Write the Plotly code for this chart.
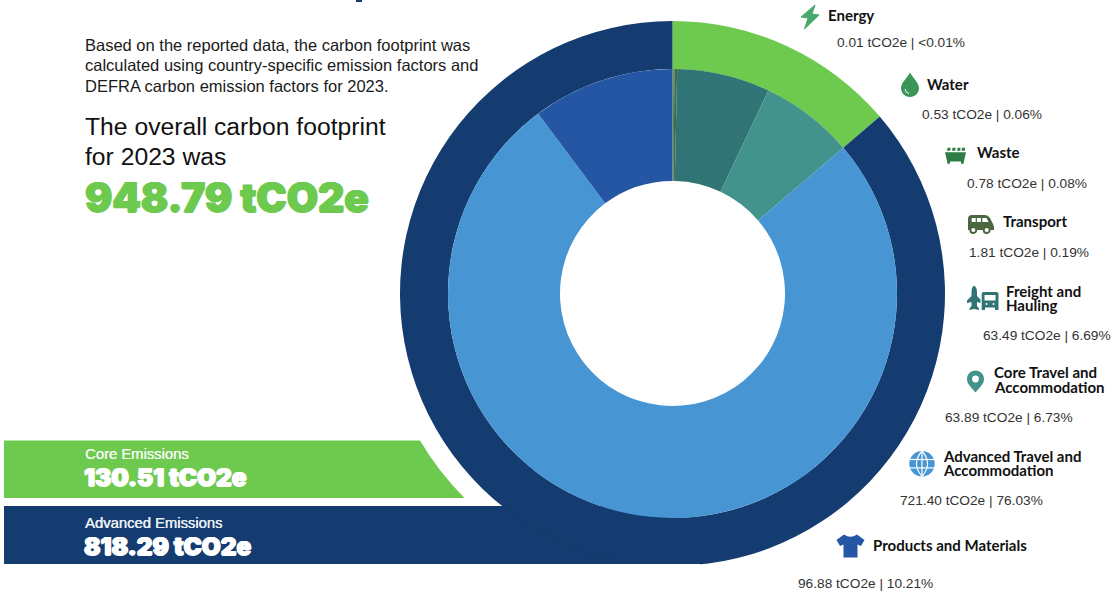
import re
import plotly.graph_objects as go

W, H = 1113, 594

# Emissions by category, in tCO2e
categories = ["Energy", "Water", "Waste", "Transport", "Freight and Hauling",
              "Core Travel and Accommodation", "Advanced Travel and Accommodation",
              "Products and Materials"]
category_values = [0.01, 0.53, 0.78, 1.81, 63.49, 63.89, 721.40, 96.88]
category_shares = ["<0.01%", "0.06%", "0.08%", "0.19%", "6.69%", "6.73%", "76.03%", "10.21%"]
category_colors = ["#4aa96c", "#3d9459", "#2e7d46", "#4a6741", "#317475", "#42938c", "#4795d3", "#2456a4"]

groups = ["Core Emissions", "Advanced Emissions"]
group_values = [130.51, 818.29]
group_colors = ["#6ec94f", "#143c70"]
total = 948.79

# Donut geometry in page pixels
CX, CY = 672.5, 293.5
R_OUT, R_MID, R_HOLE = 272.5, 224.5, 112.5


def px(x):
    return x / W


def py(y):
    return 1 - y / H


def domain(r):
    return dict(x=[px(CX - r), px(CX + r)], y=[py(CY + r), py(CY - r)])


def path(d):
    """Convert an absolute pixel path string to paper coordinates."""
    out, is_x = [], True
    for tok in re.findall(r"[A-Za-z]|-?[\d.]+", d):
        if tok.isalpha():
            out.append(tok)
            is_x = True
        else:
            out.append(f"{px(float(tok)):.5f}" if is_x else f"{py(float(tok)):.5f}")
            is_x = not is_x
    return " ".join(out)


shapes = []


def fill(d, color, layer="above", stroke=0.0):
    shapes.append(dict(type="path", xref="paper", yref="paper", path=path(d), fillcolor=color,
                       line=dict(color=color, width=stroke), layer=layer))


def stroke(d, color, width):
    shapes.append(dict(type="path", xref="paper", yref="paper", path=path(d),
                       line=dict(color=color, width=width), layer="above"))


def circle(cx, cy, r, color, line=None, lw=0):
    shapes.append(dict(type="circle", xref="paper", yref="paper", x0=px(cx - r), x1=px(cx + r),
                       y0=py(cy + r), y1=py(cy - r), fillcolor=color,
                       line=dict(color=line or color, width=lw), layer="above"))


# Banners behind the donut
fill("M4 440.5 L420 440.5 Q438.3 471.6 464.5 498 L4 498 Z", group_colors[0], "below")
fill("M4 506 L672 506 L672 564 L4 564 Z", group_colors[1], "below")
# Flat lower edge of the ring
fill("M400 564 L700 564 L700 570 L400 570 Z", "#ffffff")
# Descender of the page heading above
fill("M356 0 L362 0 L362 2 L356 2 Z", group_colors[1])

# Category icons
fill("M815 5 L801 17 L808 18 L804.5 29 L819 15 L812 14 Z", category_colors[0], stroke=1)

fill("M910 72.5 C907 78 901 83 901 88 C901 93 905 97 910 97 C915 97 919 93 919 88 C919 83 913 78 910 72.5 Z",
     category_colors[1])
stroke("M905 89 Q905.5 93 909 93.5", "#ffffff", 1)

for x0 in (947, 952, 957, 961.5):
    fill(f"M{x0 + 0.6} 147.7 L{x0 + 3.6} 147.7 L{x0 + 3.3} 150.7 L{x0} 150.7 Z", category_colors[2])
fill("M945 152.3 L966 152.3 L964 161 L963.5 163.7 L961 163.7 L961 161.5 L950 161.5 L950 163.7 L947.5 163.7 L947 161 Z",
     category_colors[2])

fill("M968 219 Q968 215 972 215 L985 215 Q988 215 990 218 L993 224 Q994 226 994 228 L994 230 L968 230 Z",
     category_colors[3])
fill("M971.7 218 L975.7 218 L975.7 222 L971.7 222 Z", "#ffffff")
fill("M976.9 218 L980.9 218 L980.9 222 L976.9 222 Z", "#ffffff")
fill("M982.3 218 L986.5 218 L988.5 222 L982.3 222 Z", "#ffffff")
for cx in (973.3, 986.7):
    circle(cx, 230, 3.0, "#ffffff", category_colors[3], 2)

fill("M974 285.5 Q971.5 287.5 971.5 292 L971.5 296 L967 300.5 L967 303 L971.5 302 L971.5 306 L969.5 308.5 L969.5 310 "
     "L974 309 L979 310 L979 308.5 L977 306 L977 302 L980.5 303 L980.5 299.5 L977 296 L977 292 Q977 287.5 974 285.5 Z",
     category_colors[4])
fill("M983.5 292 L996.5 292 Q998.5 292 998.5 294 L998.5 310 L995 310 L995 307.5 L985 307.5 L985 310 L981.7 310 "
     "L981.7 294 Q981.7 292 983.5 292 Z", category_colors[4])
fill("M984.5 295 L995.5 295 L995.5 300.5 L984.5 300.5 Z", "#ffffff")
for cx in (986.5, 993.5):
    circle(cx, 304, 1.0, "#ffffff")

fill("M975.5 392.5 C971 387 967 384 967 379 C967 374 971 370.5 975.5 370.5 C980 370.5 984 374 984 379 "
     "C984 384 980 387 975.5 392.5 Z", category_colors[5])
circle(975.5, 379, 3.4, "#ffffff")

GX, GY, GR = 922, 463.7, 12.7
circle(GX, GY, GR, category_colors[6])
for dy in (-4.2, 4.2):
    stroke(f"M{GX - GR} {GY + dy} L{GX + GR} {GY + dy}", "#ffffff", 1.2)
stroke(f"M{GX} {GY - GR} L{GX} {GY + GR}", "#ffffff", 1.2)
stroke(f"M{GX} {GY - GR} Q{GX - 11} {GY} {GX} {GY + GR} Q{GX + 11} {GY} {GX} {GY - GR} Z", "#ffffff", 1.2)

fill("M844 534.5 Q850.5 539 857 534.5 L864.5 540 L861 546 L857.5 544.5 L857.5 557.5 L843.5 557.5 "
     "L843.5 544.5 L840 546 L836.5 540 Z", category_colors[7])

# Category headings and value lines: (text, x, y)
HEAD_FONT = "Lato"
BODY_FONT = "Liberation Sans"
heading_lines = [("Energy", 828, 14.5), ("Water", 927, 83.5), ("Waste", 977, 152.5), ("Transport", 1003, 221.5),
                 ("Freight and", 1006.5, 290.5), ("Hauling", 1006.5, 304.5),
                 ("Core Travel and", 994, 372.5), ("Accommodation", 994, 386.5),
                 ("Advanced Travel and", 943, 455.5), ("Accommodation", 943, 469.5),
                 ("Products and Materials", 873.5, 544.5)]
value_positions = [(837, 42), (922, 114), (967, 183), (969, 252), (983, 335), (945, 417), (900.5, 500), (798.5, 583)]

annotations = []


def label(text, x, y, size, color, family=BODY_FONT, weight=400, shadow="none"):
    # Annotation boxes sit about a pixel and a half right of their anchor
    annotations.append(dict(text=text, x=px(x - 1.5), y=py(y), xref="paper", yref="paper", showarrow=False,
                            xanchor="left", yanchor="middle", borderpad=0, align="left",
                            font=dict(family=family, size=size, color=color, weight=weight, shadow=shadow)))


for text, x, y in heading_lines:
    label(text, x, y, 15, "#111111", HEAD_FONT, 700)
for value, share, (x, y) in zip(category_values, category_shares, value_positions):
    label(f"{value:.2f} tCO2e | {share}", x, y, 13.7, "#333333")

# Introductory text
for text, y in [("Based on the reported data, the carbon footprint was", 44.5),
                ("calculated using country-specific emission factors and", 65),
                ("DEFRA carbon emission factors for 2023.", 86)]:
    label(text, 85.5, y, 16.5, "#1a1a1a")
label("The overall carbon footprint", 85.5, 127, 24.7, "#111111")
label("for 2023 was", 85.5, 156, 24.7, "#111111")


def heavy(text, x, y, size, color):
    label(text, x, y, size, color, "Inter", 900, f"0.8px 0 0 {color}, -0.8px 0 0 {color}, 0 0.6px 0 {color}")


heavy(f"{total:.2f} tCO2e", 85, 197, 40.5, group_colors[0])

# Banner captions
soft_white = "0.3px 0 0 #ffffff"
label(groups[0], 85, 454, 14.8, "#f2f7ee", shadow=soft_white)
heavy(f"{group_values[0]:.2f} tCO2e", 84.5, 477, 24.4, "#ffffff")
label(groups[1], 85, 523, 14.8, "#e8edf4", shadow=soft_white)
heavy(f"{group_values[1]:.2f} tCO2e", 84.5, 546, 24.4, "#ffffff")

fig = go.Figure()
fig.add_trace(go.Pie(labels=groups, values=group_values, sort=False, direction="clockwise", rotation=0,
                     hole=R_MID / R_OUT, domain=domain(R_OUT), textinfo="none", hoverinfo="label+value",
                     marker=dict(colors=group_colors, line=dict(width=0))))
fig.add_trace(go.Pie(labels=categories, values=category_values, sort=False, direction="clockwise", rotation=0,
                     hole=R_HOLE / R_MID, domain=domain(R_MID), textinfo="none", hoverinfo="label+value",
                     marker=dict(colors=category_colors, line=dict(width=0))))
fig.update_layout(width=W, height=H, margin=dict(l=0, r=0, t=0, b=0), showlegend=False,
                  paper_bgcolor="#ffffff", plot_bgcolor="#ffffff", shapes=shapes, annotations=annotations)
fig.write_html("out.html")
